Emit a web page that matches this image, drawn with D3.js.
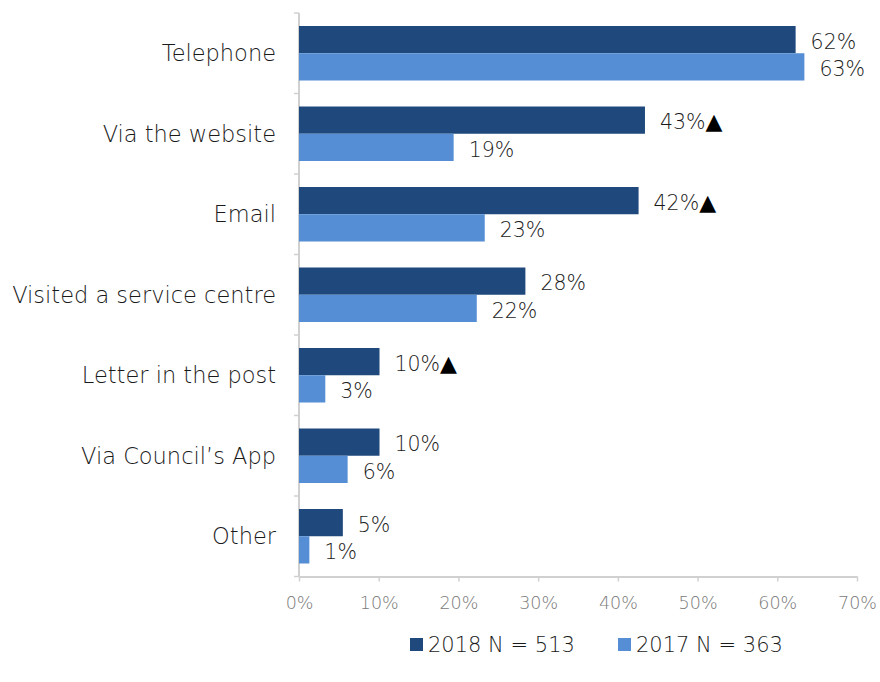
<!DOCTYPE html>
<html><head><meta charset="utf-8">
<script src="https://cdn.jsdelivr.net/npm/d3@7"></script>
<style>body{margin:0;background:#fff;} svg{display:block;}</style>
</head><body>
<svg id="chart" width="880" height="682"></svg>
<script>
const categories = ["Telephone","Via the website","Email","Visited a service centre","Letter in the post","Via Council\u2019s App","Other"];
const values2018 = [62.3, 43.4, 42.6, 28.4, 10.1, 10.1, 5.5];
const values2017 = [63.4, 19.4, 23.3, 22.3, 3.3, 6.1, 1.3];
const labels2018 = ["62%","43%","42%","28%","10%","10%","5%"];
const labels2017 = ["63%","19%","23%","22%","3%","6%","1%"];
const flags2018 = [false,true,true,false,true,false,false];
const seriesNames = ["2018 N = 513","2017 N = 363"];
const xTicks = [0,10,20,30,40,50,60,70];

const colors = ["#1F497D","#558ED5"];
const font = "'Century Gothic','URW Gothic','DejaVu Sans',sans-serif";
const svg = d3.select("#chart");
const mLeft = 299, mRight = 857, mTop = 13, mBottom = 576.5;

const x = d3.scaleLinear().domain([0,70]).range([mLeft,mRight]);
const y = d3.scaleBand().domain(categories).range([mTop,mBottom]).paddingInner(0.323).paddingOuter(0.1615);
const ySub = d3.scaleBand().domain([0,1]).range([0,y.bandwidth()]);

// x axis
const xAxis = d3.axisBottom(x).tickValues(xTicks).tickFormat(d=>d+"%").tickSize(5).tickSizeOuter(0);
const gx = svg.append("g").attr("transform",`translate(0,${mBottom})`).call(xAxis);
gx.select(".domain").attr("stroke","#d0d0d0").attr("stroke-width",2);
gx.selectAll(".tick line").attr("stroke","#d0d0d0").attr("stroke-width",1.5);
gx.selectAll(".tick text").attr("fill","#7a7a7a").attr("font-size",17.5).attr("font-weight",300).attr("font-family",font).attr("dy","1.4em");

// y axis line with category separators
svg.append("line").attr("x1",mLeft).attr("x2",mLeft).attr("y1",mTop).attr("y2",mBottom).attr("stroke","#d0d0d0").attr("stroke-width",2);
const step = y.step();
d3.range(categories.length+1).forEach(i=>{
  const yy = mTop + i*step;
  svg.append("line").attr("x1",mLeft-5).attr("x2",mLeft).attr("y1",yy).attr("y2",yy).attr("stroke","#d0d0d0").attr("stroke-width",1.5);
});

// category labels
svg.append("g").selectAll("text").data(categories).join("text")
  .attr("x",276).attr("y",d=>y(d)+y.bandwidth()/2).attr("dy","0.35em")
  .attr("text-anchor","end").attr("font-family",font).attr("font-size",22.5).attr("font-weight",300).attr("fill","#1a1a1a")
  .text(d=>d);

// bars
const series = [values2018, values2017];
const labs = [labels2018, labels2017];
series.forEach((vals,s)=>{
  svg.append("g").selectAll("rect").data(vals).join("rect")
    .attr("x",x(0)).attr("y",(d,i)=>y(categories[i])+ySub(s))
    .attr("width",d=>x(d)-x(0)).attr("height",ySub.bandwidth())
    .attr("fill",colors[s]);
  const t = svg.append("g").selectAll("text").data(vals).join("text")
    .attr("x",d=>x(d)+15).attr("y",(d,i)=>y(categories[i])+ySub(s)+ySub.bandwidth()/2+2).attr("dy","0.35em")
    .attr("font-family",font).attr("font-size",20.5).attr("font-weight",300).attr("fill","#1a1a1a")
    .text((d,i)=>labs[s][i]);
  if (s===0) {
    t.filter((d,i)=>flags2018[i]).append("tspan")
      .attr("font-size",22).attr("font-weight",400).attr("fill","#000").text("\u25B2");
  }
});

// legend
const legend = svg.append("g");
const lx = [410, 618];
seriesNames.forEach((n,i)=>{
  legend.append("rect").attr("x",lx[i]).attr("y",638).attr("width",13).attr("height",13).attr("fill",colors[i]);
  legend.append("text").attr("x",lx[i]+18).attr("y",645).attr("dy","0.35em")
    .attr("font-family",font).attr("font-size",21).attr("font-weight",300).attr("fill","#1a1a1a").text(n);
});
</script>
</body></html>
